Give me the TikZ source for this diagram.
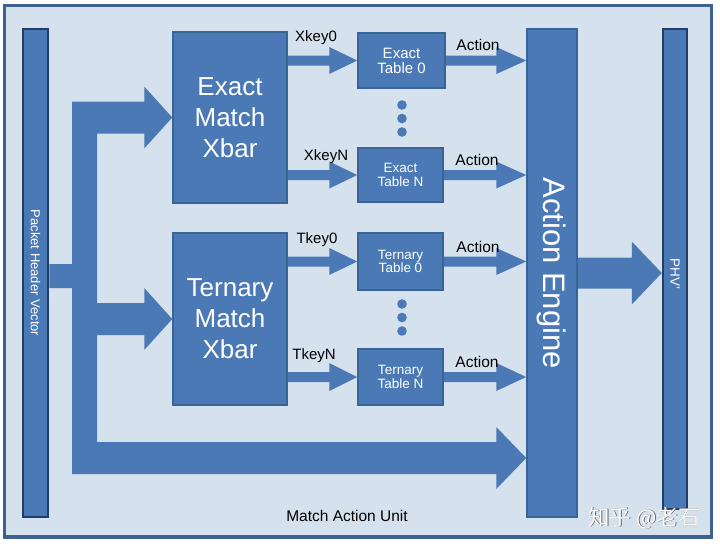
\documentclass[tikz,border=0pt]{standalone}
\usepackage{fontspec}
\setmainfont{Liberation Sans}
\newfontfamily\cjk{Noto Sans CJK SC}
\usetikzlibrary{calc}
\definecolor{bgfill}{HTML}{D5E1ED}
\definecolor{boxblue}{HTML}{4A79B5}
\definecolor{boxedge}{HTML}{3A6396}
\definecolor{baredge}{HTML}{213F66}
\definecolor{frameedge}{HTML}{3D6291}
\pgfdeclarelayer{back}
\pgfsetlayers{back,main}
\newcommand\fatarrow[5]{% from, to, shaft half, head half, head length
  \fill[arrowfill] ($(#1)+(0,-#3)$) -- ($(#2)+(-#5,-#3)$) -- ($(#2)+(-#5,-#4)$) -- (#2)
    -- ($(#2)+(-#5,#4)$) -- ($(#2)+(-#5,#3)$) -- ($(#1)+(0,#3)$) -- cycle;}
\begin{document}
\begin{tikzpicture}[x=1pt,y=-1pt,
  blk/.style={draw=boxedge, fill=boxblue, line width=1.5pt, text=white, inner sep=0pt, align=center},
  barbox/.style={draw=baredge, fill=boxblue, line width=2.5pt, inner sep=0pt},
  arrowfill/.style={fill=boxblue},
  bigtxt/.style={font=\fontsize{26}{31}\selectfont},
  tabtxt/.style={font=\fontsize{13.5}{13.5}\selectfont},
  lbl/.style={text=black, inner sep=0pt, font=\fontsize{15.5}{15.5}\selectfont},
  vtxt/.style={text=white, inner sep=0pt, rotate=-90}]
\useasboundingbox (0,0) rectangle (720,547);

% nodes
\node[barbox, minimum width=25pt, minimum height=488pt] (phv) at (35.5,273) {};
\node[vtxt, font=\fontsize{13}{13}\selectfont] (phvt) at (phv.center) {Packet Header Vector};
\node[blk, bigtxt, minimum width=114pt, minimum height=171pt] (emx) at (230,117.5) {Exact\\Match\\Xbar};
\node[blk, bigtxt, minimum width=114pt, minimum height=172pt] (tmx) at (230,319) {Ternary\\Match\\Xbar};
\node[blk, font=\fontsize{15}{15}\selectfont, minimum width=87pt, minimum height=55pt] (et0) at (401.5,60.5) {Exact\\Table 0};
\node[blk, tabtxt, minimum width=85pt, minimum height=54pt] (etN) at (400.5,175) {Exact\\Table N};
\node[blk, tabtxt, minimum width=85pt, minimum height=57pt] (tt0) at (400.5,261.5) {Ternary\\Table 0};
\node[blk, tabtxt, minimum width=85pt, minimum height=56pt] (ttN) at (400.5,377) {Ternary\\Table N};
\node[blk, minimum width=50pt, minimum height=488pt] (ae) at (552,273) {};
\node[vtxt, font=\fontsize{31}{31}\selectfont] (aet) at (ae.center) {Action Engine};
\node[barbox, minimum width=24pt, minimum height=480pt] (phv2) at (675,269) {};
\node[vtxt, font=\fontsize{13.5}{13.5}\selectfont] (phv2t) at (675,274) {PHV'};

% dots
\foreach \yy in {105,118.5,132,304,317.5,331}
  \fill[boxblue] (402,\yy) circle (4.8);

% labels
\node[lbl, font=\fontsize{15}{15}\selectfont] (lx0) at (316,38) {Xkey0};
\node[lbl, font=\fontsize{15}{15}\selectfont] (lxN) at (326,157) {XkeyN};
\node[lbl, font=\fontsize{15}{15}\selectfont] (lt0) at (317,240) {Tkey0};
\node[lbl, font=\fontsize{15}{15}\selectfont] (ltN) at (314,356) {TkeyN};
\node[lbl] (la1) at (478,44.5) {Action};
\node[lbl] (la2) at (477,159.5) {Action};
\node[lbl] (la3) at (478,247) {Action};
\node[lbl] (la4) at (477,361.5) {Action};
\node[lbl] (mau) at (347,516) {Match Action Unit};
\node[text=gray!80!black, inner sep=0pt, font=\cjk\fontsize{21.5}{21.5}\selectfont] (wm0) at (644.8,518.8) {知乎 @老石};
\node[text=white!95!bgfill, inner sep=0pt, font=\cjk\fontsize{21.5}{21.5}\selectfont] (wm) at (644,518) {知乎 @老石};

% connector coordinates
\coordinate (a1s) at (emx.east |- et0.west);
\coordinate (a2s) at (emx.east |- etN.west);
\coordinate (a3s) at (tmx.east |- tt0.west);
\coordinate (a4s) at (tmx.east |- ttN.west);
\coordinate (b1e) at (ae.west |- et0.east);
\coordinate (b2e) at (ae.west |- etN.east);
\coordinate (b3e) at (ae.west |- tt0.east);
\coordinate (b4e) at (ae.west |- ttN.east);
\coordinate (ce) at (phv2.west |- ae.east);
\coordinate (bt) at (ae.west |- 0,458);

\begin{pgfonlayer}{back}
\draw[frameedge, fill=bgfill, line width=3.5pt] (4.5,5.5) rectangle (711.5,537);
\fatarrow{a1s}{et0.west}{5}{13.5}{28}
\fatarrow{a2s}{etN.west}{5}{13.5}{28}
\fatarrow{a3s}{tt0.west}{5}{13.5}{28}
\fatarrow{a4s}{ttN.west}{5}{14}{28}
\fatarrow{et0.east}{b1e}{5}{13.5}{30}
\fatarrow{etN.east}{b2e}{5}{13.5}{30}
\fatarrow{tt0.east}{b3e}{5}{13.5}{30}
\fatarrow{ttN.east}{b4e}{5}{14}{30}
\fatarrow{ae.east}{ce}{15.5}{31.5}{30}
\fill[arrowfill]
  ($(phv.east)+(0,-9)$) -- (72,264) -- (72,101.5)
  -- ($(emx.west)+(-28,-16)$) -- ($(emx.west)+(-28,-31)$) -- (emx.west)
  -- ($(emx.west)+(-28,31)$) -- ($(emx.west)+(-28,16)$)
  -- (97,133.5) -- (97,303)
  -- ($(tmx.west)+(-28,-16)$) -- ($(tmx.west)+(-28,-31)$) -- (tmx.west)
  -- ($(tmx.west)+(-28,31)$) -- ($(tmx.west)+(-28,16)$)
  -- (97,335) -- (97,442)
  -- ($(bt)+(-30,-16)$) -- ($(bt)+(-30,-31)$) -- (bt)
  -- ($(bt)+(-30,31)$) -- ($(bt)+(-30,16)$)
  -- (72,474) -- (72,288) -- ($(phv.east)+(0,15)$) -- cycle;
\end{pgfonlayer}
\end{tikzpicture}
\end{document}
